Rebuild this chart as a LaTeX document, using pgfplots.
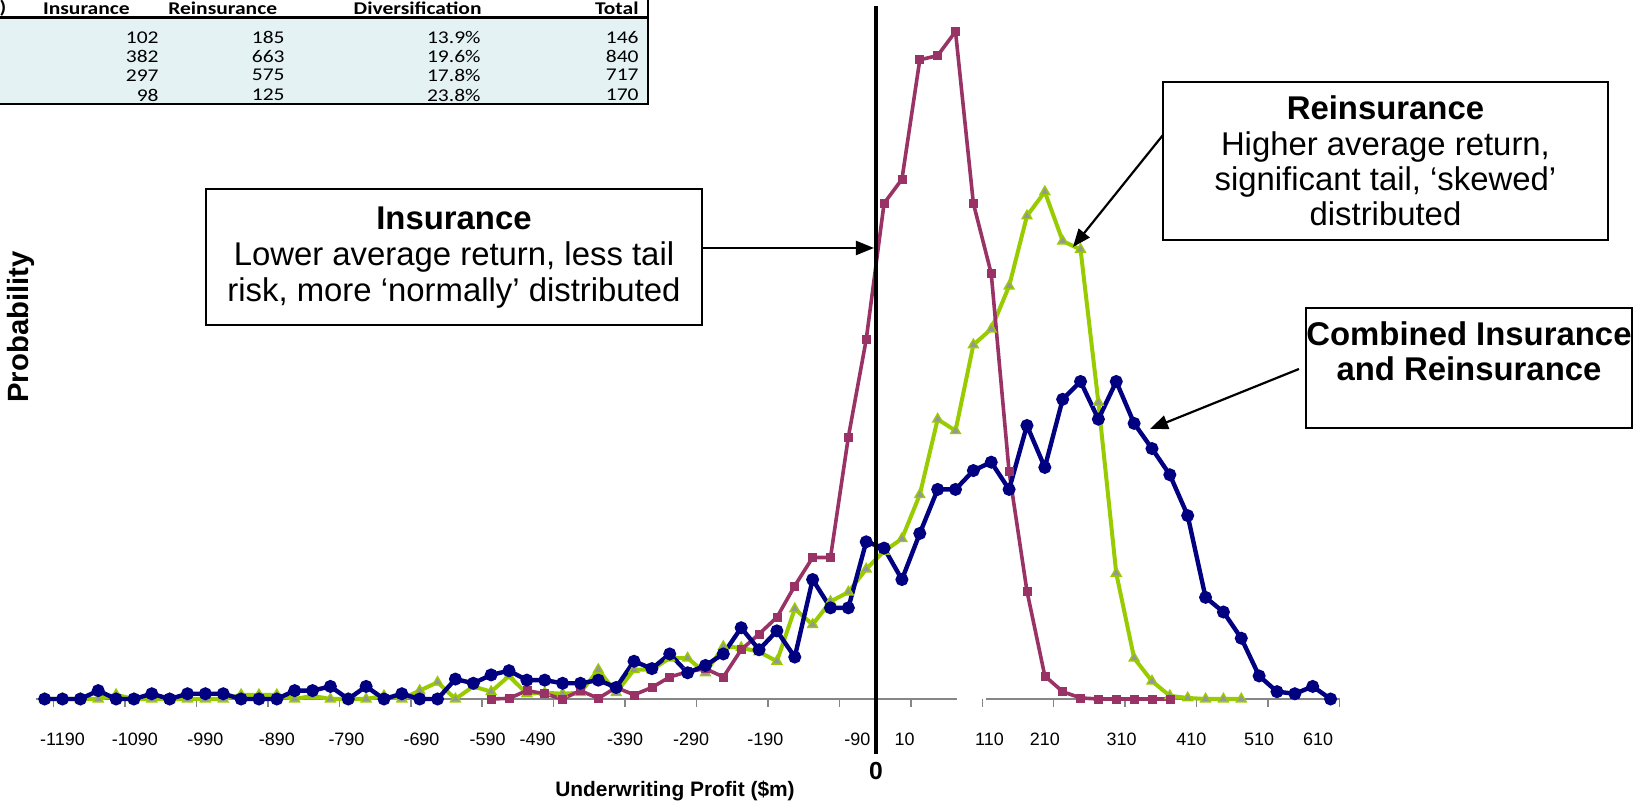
\documentclass[border=0pt]{standalone}
\usepackage{fontspec}
\setmainfont{Liberation Sans}
\newfontfamily\tabfont[FakeStretch=1.2]{Carlito}
\usepackage{pgfplots}
\pgfplotsset{compat=1.18}
\usetikzlibrary{arrows.meta}
\definecolor{combblue}{HTML}{000080}
\definecolor{insred}{HTML}{993366}
\definecolor{reigreen}{HTML}{99CC00}
\definecolor{markgray}{HTML}{969696}
\definecolor{axisgray}{HTML}{868686}
\definecolor{tabfill}{HTML}{E4F2F4}

\begin{document}
\begin{tikzpicture}[full/.style={x=0.5bp,y=-0.5bp,shift={(-17.85bp,349.5bp)}}]
% page = reference frame, 1 px of the 1643x805 reference = 0.5bp
\useasboundingbox (-17.85bp,-53bp) rectangle (803.65bp,349.5bp);

\begin{axis}[
  at={(0,0)}, anchor=south west,
  scale only axis, width=651.9bp, height=345.8bp,
  xmin=-0.5, xmax=72.5, ymin=0, ymax=660,
  axis y line=none,
  axis x line*=bottom,
  x axis line style={draw=none},
  xtick={0.5,4.5,...,72.5},
  xticklabels={},
  tick align=outside,
  major tick length=3.75bp,
  tick style={axisgray, line width=0.75bp},
  extra x ticks={1.0,5.05,9.0,13.0,16.9,21.1,24.8,27.6,32.5,36.2,40.35,45.5,48.15,52.9,56.0,60.3,64.2,68.0,71.3},
  extra x tick labels={-1190,-1090,-990,-890,-790,-690,-590,-490,-390,-290,-190,-90,10,110,210,310,410,510,610},
  extra x tick style={major tick length=0pt},
  xticklabel style={font=\fontsize{9}{10}\selectfont, anchor=base, yshift=-23bp},
  clip=false,
]
\draw[axisgray, line width=0.75bp] (axis cs:-0.5,0) -- (axis cs:51.1,0);
\draw[axisgray, line width=0.75bp] (axis cs:52.7,0) -- (axis cs:72.5,0);

% Reinsurance
\addplot[reigreen, line width=2bp, mark=triangle*, mark size=2.8bp,
  mark options={fill=markgray, draw=reigreen, line width=0.7bp}] table {
x y
0 0
1 0
2 0
3 0
4 4
5 0
6 0
7 0
8 0
9 0
10 0
11 4
12 4
13 4
14 0
15 3
16 0
17 0
18 0
19 3
20 0
21 8
22 16
23 0
24 12
25 7
26 22
27 5
28 6
29 5
30 6
31 28
32 6
33 28
34 28
35 39
36 39
37 25
38 50
39 49
40 45
41 36
42 86
43 71
44 93
45 102
46 124
47 141
48 153
49 195
50 267
51 256
52 338
53 353
54 394
55 461
56 484
57 437
58 429
59 283
60 120
61 39
62 17
63 3
64 1
65 0
66 0
67 0
};

% Insurance
\addplot[insred, line width=1.8bp, mark=square*, mark size=2bp,
  mark options={fill=insred, draw=insred, line width=0.3bp}] table {
x y
25 0
26 0.6
27 8
28 5
29 0
30 8
31 0.6
32 11
33 4
34 11
35 21
36 26
37 29
38 21
39 47
40 62
41 78
42 108
43 135
44 135
45 250
46 343
47 473
48 496
49 610
50 614
51 637
52 473
53 406
54 217
55 103
56 22
57 7
58 1
59 0
60 0
61 0
62 0
63 0
};

% Combined
\addplot[combblue, line width=2.2bp, mark=*, mark size=2.1bp,
  mark options={fill=combblue, draw=combblue}] table {
x y
0 0
1 0
2 0
3 8
4 0
5 0
6 5
7 0
8 5
9 5
10 5
11 0
12 0
13 0
14 8
15 8
16 12
17 0
18 12
19 0
20 5
21 0
22 0
23 19
24 15
25 23
26 27
27 18
28 18
29 15
30 15
31 18
32 11
33 36
34 29
35 43
36 25
37 32
38 43
39 68
40 47
41 65
42 40
43 114
44 87
45 87
46 150
47 144
48 114
49 158
50 200
51 200
52 218
53 226
54 200
55 261
56 221
57 286
58 303
59 267
60 303
61 263
62 239
63 214
64 175
65 97
66 83
67 58
68 22
69 7
70 5
71 12
72 0
};

\draw[line width=1.6bp] ([yshift=-27.5bp]axis cs:46.55,0) -- (axis cs:46.55,661);
\end{axis}

\begin{scope}[full]
% cut-off table
\fill[tabfill] (-20,17.8) rectangle (648.5,104);
\draw[line width=1.3bp] (-20,17.8) -- (648.5,17.8);
\draw[line width=1bp] (648.5,-5) -- (648.5,104) -- (-20,104);
\begin{scope}[every node/.style={font=\tabfont\fontsize{9}{10}\selectfont, inner sep=0pt}]
\node[font=\tabfont\bfseries\fontsize{9}{10}\selectfont] at (3,8.3) {)};
\node[font=\tabfont\bfseries\fontsize{9}{10}\selectfont] at (86.4,8.3) {Insurance};
\node[font=\tabfont\bfseries\fontsize{9}{10}\selectfont] at (222.7,8.3) {Reinsurance};
\node[font=\tabfont\bfseries\fontsize{9}{10}\selectfont, anchor=east] at (482,8.3) {Diversification};
\node[font=\tabfont\bfseries\fontsize{9}{10}\selectfont, anchor=east] at (639,8.3) {Total};
\node[anchor=east] at (159,37.3) {102};
\node[anchor=east] at (285,37.3) {185};
\node[anchor=east] at (481,37.3) {13.9\%};
\node[anchor=east] at (639,37.3) {146};
\node[anchor=east] at (159,56.3) {382};
\node[anchor=east] at (285,56.3) {663};
\node[anchor=east] at (481,56.3) {19.6\%};
\node[anchor=east] at (639,56.3) {840};
\node[anchor=east] at (159,75.2) {297};
\node[anchor=east] at (285,75.2) {575};
\node[anchor=east] at (481,75.2) {17.8\%};
\node[anchor=east] at (639,75.2) {717};
\node[anchor=east] at (159,95.0) {98};
\node[anchor=east] at (285,95.0) {125};
\node[anchor=east] at (481,95.0) {23.8\%};
\node[anchor=east] at (639,95.0) {170};
\end{scope}

% axis titles
\node[font=\bfseries\fontsize{10.5}{12}\selectfont] at (675,791) {Underwriting Profit (\$m)};
\node[font=\bfseries\fontsize{14.7}{16}\selectfont, rotate=90] at (21,327) {Probability};
\node[font=\bfseries\fontsize{12.4}{14}\selectfont] at (876,771) {0};

% call-outs
\draw[line width=1bp, fill=white] (206,189) rectangle (702,325);
\node[align=center, font=\fontsize{16.5}{18.2}\selectfont] at (454,257.5) {\textbf{Insurance}\\Lower average return, less tail\\risk, more ‘normally’ distributed};
\draw[line width=1bp, fill=white] (1163,82) rectangle (1608,240);
\node[align=center, font=\fontsize{16.5}{17.8}\selectfont] at (1385.5,161) {\textbf{Reinsurance}\\Higher average return,\\significant tail, ‘skewed’\\distributed};
\draw[line width=1bp, fill=white] (1306,308) rectangle (1632,428);
\node[align=center, font=\bfseries\fontsize{16.5}{17.8}\selectfont] at (1469,351.5) {Combined Insurance\\and Reinsurance};

\draw[-{Triangle[length=9bp,width=7bp]}, line width=1.1bp] (702,248) -- (874,248);
\draw[-{Triangle[length=9bp,width=7bp]}, line width=1.1bp] (1163,135) -- (1073,247);
\draw[-{Triangle[length=9bp,width=7bp]}, line width=1.1bp] (1299,369) -- (1150,429);
\end{scope}
\end{tikzpicture}
\end{document}
